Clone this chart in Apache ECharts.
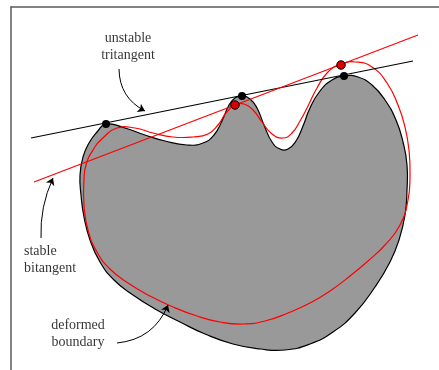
<!DOCTYPE html>
<html>
<head>
<meta charset="utf-8">
<script src="https://cdn.jsdelivr.net/npm/echarts@6/dist/echarts.min.js"></script>
<style>
    html, body {margin: 0; padding: 0; background: #fff;}
    #chart {width: 439px; height: 370px;}
</style>
</head>
<body>
<div id="chart"></div>
<script>
// outline of the gray region (x to the right, y downward)
const shapeOutline = [
    [106, 124], [125, 128], [145, 135], [165, 141], [187, 145], [203, 143], [214, 135], [222, 121],
    [229, 105], [235, 98], [242, 96], [250, 99], [257, 108], [264, 125], [272, 142], [280, 149],
    [288, 149], [296, 141], [303, 126], [310, 108], [320, 91], [332, 80], [344, 76], [358, 77],
    [372, 85], [385, 100], [396, 120], [403, 142], [407, 165], [407, 190], [405, 215], [399, 240],
    [390, 262], [375, 287], [355, 313], [333, 332], [310, 344], [285, 350], [260, 349], [233, 344],
    [205, 334], [180, 322], [155, 309], [133, 295], [114, 280], [100, 262], [90, 240], [84, 217],
    [81, 195], [80, 175], [83, 157], [89, 143], [97, 132],
]
// red curve
const deformedBoundary = [
    [117, 128], [135, 128], [153, 133], [173, 137], [193, 137], [208, 134], [218, 125], [226, 113],
    [235, 105], [244, 104], [253, 110], [262, 122], [272, 134], [283, 138], [292, 133], [300, 121],
    [308, 106], [317, 88], [328, 72], [341, 64], [356, 62], [372, 67], [387, 83], [398, 105],
    [405, 127], [409, 150], [410, 175], [408, 200], [400, 225], [385, 245], [368, 261], [350, 276],
    [330, 291], [310, 303], [288, 313], [265, 321], [243, 324], [220, 322], [197, 316], [173, 307],
    [150, 296], [128, 283], [110, 269], [97, 252], [88, 230], [84, 205], [84, 180], [86, 165],
    [93, 150], [104, 137],
]
const tritangentLine = [[31, 138], [413, 61]]
const bitangentLine = [[34, 182], [418, 35]]
const tritangentPoints = [[106, 124], [242, 96], [344, 76]]
const bitangentPoints = [[235, 105], [341, 65]]
const labelNames = ['unstable\ntritangent', 'stable\nbitangent', 'deformed\nboundary']
const labelPos = [[128, 47], [24, 260], [78, 334]]
const labelAlign = ['center', 'left', 'center']
const arrowCoords = [
    [[119, 69], [145, 111]],
    [[41, 238], [53, 178]],
    [[117, 343], [168, 305]],
]
const arrowCurve = [-0.3, 0.12, -0.3]

const chart = echarts.init(document.getElementById('chart'))

const closedShape = (pts, style) => (params, api) => ({
    type: 'polygon',
    shape: {points: pts.map((p) => api.coord(p)), smooth: 0.5},
    style: style,
})

chart.setOption({
    animation: false,
    grid: {left: 11, top: 7, right: 0, bottom: 0},
    xAxis: {
        type: 'value',
        min: 11,
        max: 439,
        position: 'top',
        axisLine: {show: true, onZero: false, lineStyle: {color: '#5a5a5a', width: 1.5}},
        axisTick: {show: false},
        axisLabel: {show: false},
        splitLine: {show: false},
    },
    yAxis: {
        type: 'value',
        min: 7,
        max: 370,
        inverse: true,
        position: 'left',
        axisLine: {show: true, onZero: false, lineStyle: {color: '#5a5a5a', width: 1.5}},
        axisTick: {show: false},
        axisLabel: {show: false},
        splitLine: {show: false},
    },
    series: [
        {
            type: 'custom',
            clip: false,
            silent: true,
            z: 1,
            data: [[200, 200]],
            renderItem: closedShape(shapeOutline, {fill: '#999999', stroke: '#000', lineWidth: 1.2}),
        },
        {
            type: 'custom',
            clip: false,
            silent: true,
            z: 2,
            data: [[200, 200]],
            renderItem: closedShape(deformedBoundary, {fill: 'none', stroke: '#ff0000', lineWidth: 1.2}),
        },
        {
            type: 'line',
            z: 3,
            data: tritangentLine,
            showSymbol: false,
            lineStyle: {color: '#000', width: 1.2},
        },
        {
            type: 'line',
            z: 3,
            data: bitangentLine,
            showSymbol: false,
            lineStyle: {color: '#ff0000', width: 1.2},
        },
        {
            type: 'scatter',
            z: 4,
            data: tritangentPoints,
            symbolSize: 8,
            itemStyle: {color: '#000', opacity: 1},
        },
        {
            type: 'scatter',
            z: 4,
            data: bitangentPoints,
            symbolSize: 8.5,
            itemStyle: {color: '#dd0000', borderColor: '#000', borderWidth: 1, opacity: 1},
        },
        {
            type: 'lines',
            coordinateSystem: 'cartesian2d',
            z: 4,
            symbol: ['none', 'arrow'],
            symbolSize: 7,
            lineStyle: {color: '#000', width: 1, opacity: 1},
            data: arrowCoords.map((c, i) => ({coords: c, lineStyle: {curveness: arrowCurve[i]}})),
        },
        {
            type: 'scatter',
            z: 5,
            symbolSize: 0,
            data: labelNames.map((n, i) => ({
                name: n,
                value: labelPos[i],
                label: {align: labelAlign[i]},
            })),
            label: {
                show: true,
                position: 'inside',
                formatter: '{b}',
                color: '#000',
                fontFamily: 'Liberation Serif',
                fontSize: 14,
                lineHeight: 17,
                verticalAlign: 'middle',
            },
        },
    ],
})
</script>
</body>
</html>
